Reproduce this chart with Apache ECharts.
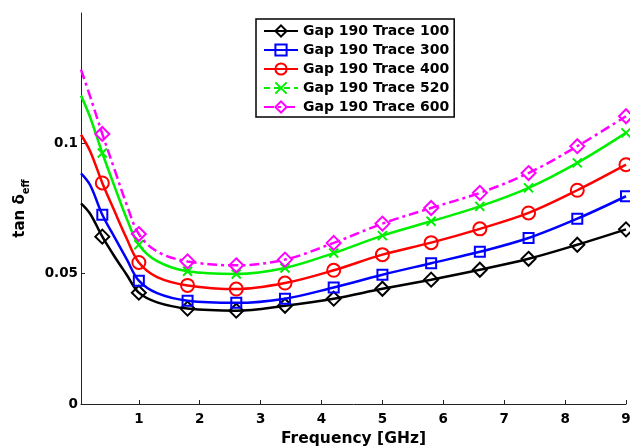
<!DOCTYPE html>
<html>
<head>
<meta charset="utf-8">
<script src="https://cdn.jsdelivr.net/npm/echarts@6/dist/echarts.min.js"></script>
<style>
  html, body { margin: 0; padding: 0; background: #fff; }
  #chart { width: 630px; height: 446px; }
</style>
</head>
<body>
<div id="chart"></div>
<script>
// Frequency samples (GHz); markers are drawn only at markerFreqs
const freqs = [0.05, 0.2, 0.4, 0.6, 0.8, 1.0, 1.3, 1.8, 2.6, 3.4, 4.2, 5.0, 5.8, 6.6, 7.4, 8.2, 9.0];
const markerFreqs = [0.4, 1.0, 1.8, 2.6, 3.4, 4.2, 5.0, 5.8, 6.6, 7.4, 8.2, 9.0];

// Effective loss tangent per trace width
const trace100 = [0.0770, 0.0730, 0.0642, 0.0566, 0.0496, 0.0427, 0.0390, 0.0366, 0.0358, 0.0377, 0.0404, 0.0442, 0.0477, 0.0515, 0.0557, 0.0611, 0.0670];
const trace300 = [0.0885, 0.0840, 0.0726, 0.0640, 0.0556, 0.0473, 0.0425, 0.0396, 0.0388, 0.0404, 0.0447, 0.0496, 0.0540, 0.0584, 0.0637, 0.0711, 0.0797];
const trace400 = [0.1033, 0.0970, 0.0848, 0.0740, 0.0635, 0.0543, 0.0487, 0.0455, 0.0441, 0.0464, 0.0513, 0.0573, 0.0619, 0.0672, 0.0733, 0.0820, 0.0918];
const trace520 = [0.1183, 0.1100, 0.0963, 0.0835, 0.0712, 0.0611, 0.0548, 0.0509, 0.0499, 0.0522, 0.0579, 0.0646, 0.0701, 0.0758, 0.0829, 0.0925, 0.1040];
const trace600 = [0.1283, 0.1180, 0.1036, 0.0900, 0.0765, 0.0652, 0.0585, 0.0547, 0.0532, 0.0554, 0.0618, 0.0692, 0.0752, 0.0810, 0.0886, 0.0989, 0.1104];

const seriesNames = ['Gap 190 Trace 100', 'Gap 190 Trace 300', 'Gap 190 Trace 400', 'Gap 190 Trace 520', 'Gap 190 Trace 600'];
const xTicks = [1, 2, 3, 4, 5, 6, 7, 8, 9];
const yTicks = [0, 0.05, 0.1];

const FONT = 'DejaVu Sans';
const crossPath = 'path://M0,0L10,10M10,0L0,10';

const styles = [
  { values: trace100, color: '#000000', symbol: 'diamond', size: 14, dash: 'solid' },
  { values: trace300, color: '#0000ff', symbol: 'rect', size: 10, dash: 'solid' },
  { values: trace400, color: '#ff0000', symbol: 'circle', size: 13, dash: 'solid' },
  { values: trace520, color: '#00ee00', symbol: crossPath, size: 9, dash: 'solid', legendDash: [6, 4] },
  { values: trace600, color: '#ff00ff', symbol: 'diamond', size: 14, dash: [10, 4, 3, 4] }
];

function buildData(values, symbol) {
  return freqs.map((f, i) => ({
    value: [f, values[i]],
    symbol: markerFreqs.includes(f) ? symbol : 'none'
  }));
}

const series = styles.map((s, k) => ({
  name: seriesNames[k],
  type: 'line',
  smooth: 0.35,
  clip: false,
  symbol: s.symbol,
  symbolSize: s.size,
  showAllSymbol: true,
  lineStyle: { color: s.color, width: 2.5, type: s.dash },
  itemStyle: { color: 'rgba(0,0,0,0)', borderColor: s.color, borderWidth: 2 },
  emphasis: { disabled: true },
  z: 2 + k,
  data: buildData(s.values, s.symbol)
}));

const chart = echarts.init(document.getElementById('chart'), null, { renderer: 'canvas' });
chart.setOption({
  animation: false,
  backgroundColor: '#ffffff',
  grid: { left: 81, right: 4, top: 13, bottom: 42, containLabel: false, outerBoundsMode: 'none' },
  legend: {
    orient: 'vertical',
    left: 256,
    top: 19,
    padding: [5, 5, 3, 7],
    itemWidth: 34,
    itemHeight: 14,
    itemGap: 5,
    borderColor: '#000',
    borderWidth: 1.5,
    backgroundColor: '#fff',
    textStyle: { fontFamily: FONT, fontWeight: 'bold', fontSize: 14, color: '#000' },
    data: styles.map((s, k) => ({
      name: seriesNames[k],
      lineStyle: s.legendDash ? { type: s.legendDash } : undefined
    }))
  },
  xAxis: {
    type: 'value',
    min: 0.05,
    max: 9,
    name: 'Frequency [GHz]',
    nameLocation: 'middle',
    nameGap: 26,
    nameTextStyle: { fontFamily: FONT, fontWeight: 'bold', fontSize: 15.5, color: '#000' },
    axisLine: { show: true, onZero: false, lineStyle: { color: '#222', width: 1 } },
    axisTick: { show: true, inside: true, length: 4, customValues: xTicks, lineStyle: { color: '#222' } },
    axisLabel: { customValues: xTicks, margin: 8, fontFamily: FONT, fontWeight: 'bold', fontSize: 13.5, color: '#000' },
    splitLine: { show: false }
  },
  yAxis: {
    type: 'value',
    min: 0,
    max: 0.15,
    name: '{a|tan δ}{b|eff}',
    nameLocation: 'middle',
    nameRotate: 90,
    nameGap: 50,
    nameTextStyle: {
      rich: {
        a: { fontFamily: FONT, fontWeight: 'bold', fontSize: 15, color: '#000', lineHeight: 22 },
        b: { fontFamily: FONT, fontWeight: 'bold', fontSize: 10, color: '#000', lineHeight: 22, verticalAlign: 'bottom', padding: [10, 0, 0, 0] }
      }
    },
    axisLine: { show: true, onZero: false, lineStyle: { color: '#222', width: 1 } },
    axisTick: { show: true, inside: true, length: 4, customValues: yTicks, lineStyle: { color: '#222' } },
    axisLabel: { customValues: yTicks, margin: 3, fontFamily: FONT, fontWeight: 'bold', fontSize: 13.5, color: '#000' },
    splitLine: { show: false }
  },
  series: series
});
</script>
</body>
</html>
